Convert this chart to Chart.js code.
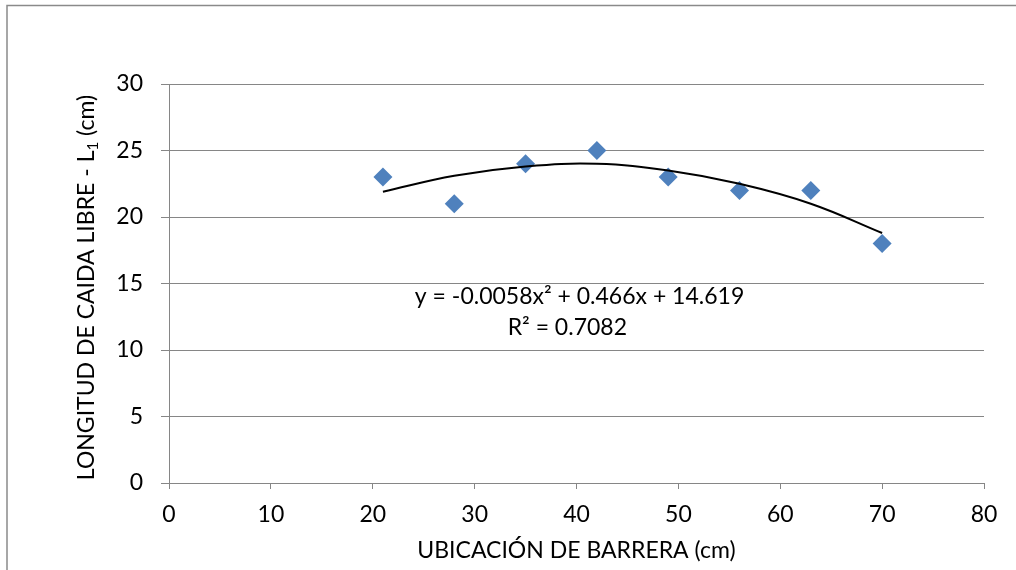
<!DOCTYPE html>
<html><head><meta charset="utf-8">
<script src="https://cdn.jsdelivr.net/npm/chart.js@4"></script>
<style>html,body{margin:0;padding:0;background:#fff}#wrap{position:relative;width:1016px;height:570px}</style>
</head><body><div id="wrap"><canvas id="c" width="1016" height="570"></canvas></div>
<script>
const xValues = [21, 28, 35, 42, 49, 56, 63, 70];
const yValues = [23, 21, 24, 25, 23, 22, 22, 18];
const trendX = [21, 28, 35, 42, 49, 56, 63, 70];
const trendY = [21.9, 23.1, 23.8, 24.0, 23.5, 22.5, 21.0, 18.8];
const xTickValues = [0, 10, 20, 30, 40, 50, 60, 70, 80];
const yTickValues = [0, 5, 10, 15, 20, 25, 30];
const xTitle = 'UBICACIÓN DE BARRERA (cm)';
const yTitleMain = 'LONGITUD DE CAIDA LIBRE - L';
const yTitleSub = '1';
const yTitleEnd = ' (cm)';
const eqText = 'y = -0.0058x² + 0.466x + 14.619';
const r2Text = 'R² = 0.7082';

const FONT = 'Lato, "Open Sans", sans-serif';
const FS = 23;
const GRID = '#868686';

const extras = {
  id: 'extras',
  beforeDraw(chart) {
    const ctx = chart.ctx;
    ctx.save();
    ctx.fillStyle = '#fff';
    ctx.fillRect(0, 0, chart.width, chart.height);
    ctx.strokeStyle = '#8a8a8a';
    ctx.lineWidth = 1.5;
    ctx.strokeRect(7, 5.5, chart.width + 10, chart.height + 10);
    ctx.restore();
  },
  afterDraw(chart) {
    const ctx = chart.ctx;
    const a = chart.chartArea;
    const xs = chart.scales.x, ys = chart.scales.y;
    ctx.save();
    ctx.fillStyle = '#000';
    ctx.font = FS + 'px ' + FONT;
    ctx.textAlign = 'center';
    ctx.textBaseline = 'middle';
    ctx.fillText(xTitle, (a.left + a.right) / 2, 551);
    ctx.fillText(eqText, xs.getPixelForValue(40.3), ys.getPixelForValue(14.0));
    ctx.fillText(r2Text, xs.getPixelForValue(39.1), ys.getPixelForValue(11.65));
    ctx.translate(86, (a.top + a.bottom) / 2 + 4);
    ctx.rotate(-Math.PI / 2);
    ctx.textAlign = 'left';
    ctx.textBaseline = 'alphabetic';
    ctx.font = FS + 'px ' + FONT;
    const w1 = ctx.measureText(yTitleMain).width;
    const w3 = ctx.measureText(yTitleEnd).width;
    ctx.font = '15px ' + FONT;
    const w2 = ctx.measureText(yTitleSub).width;
    const total = w1 + w2 + w3;
    let x = -total / 2;
    const base = 8;
    ctx.font = FS + 'px ' + FONT;
    ctx.fillText(yTitleMain, x, base);
    x += w1;
    ctx.font = '15px ' + FONT;
    ctx.fillText(yTitleSub, x, base + 4);
    x += w2;
    ctx.font = FS + 'px ' + FONT;
    ctx.fillText(yTitleEnd, x, base);
    ctx.restore();
  }
};

new Chart(document.getElementById('c'), {
  type: 'scatter',
  data: {
    datasets: [
      {
        type: 'line',
        label: 'Trend',
        data: trendX.map((x, i) => ({ x: x, y: trendY[i] })),
        borderColor: '#000',
        borderWidth: 2,
        pointRadius: 0,
        fill: false,
        tension: 0.4
      },
      {
        label: 'Data',
        data: xValues.map((x, i) => ({ x: x, y: yValues[i] })),
        pointStyle: 'rectRot',
        pointRadius: 9.5,
        backgroundColor: '#4F81BD',
        borderColor: '#4F81BD',
        borderWidth: 0
      }
    ]
  },
  options: {
    responsive: false,
    animation: false,
    devicePixelRatio: 1,
    layout: { padding: { left: 0, top: 84, right: 32, bottom: 0 } },
    plugins: { legend: { display: false }, tooltip: { enabled: false }, title: { display: false } },
    scales: {
      x: {
        type: 'linear', min: 0, max: 80,
        afterBuildTicks: s => { s.ticks = xTickValues.map(v => ({ value: v })); },
        afterFit: s => { s.height = 87; },
        ticks: { color: '#000', font: { size: FS, family: FONT }, padding: 12, maxRotation: 0 },
        grid: { drawOnChartArea: false, drawTicks: true, tickLength: 6, color: GRID, lineWidth: 1 },
        border: { display: true, color: GRID, width: 1 }
      },
      y: {
        type: 'linear', min: 0, max: 30,
        afterBuildTicks: s => { s.ticks = yTickValues.map(v => ({ value: v })); },
        afterFit: s => { s.width = 169; },
        ticks: { color: '#000', font: { size: FS, family: FONT }, padding: 18 },
        grid: { drawOnChartArea: true, drawTicks: true, tickLength: 8, color: GRID, lineWidth: 1 },
        border: { display: true, color: GRID, width: 1 }
      }
    }
  },
  plugins: [extras]
});
</script>
</body></html>
